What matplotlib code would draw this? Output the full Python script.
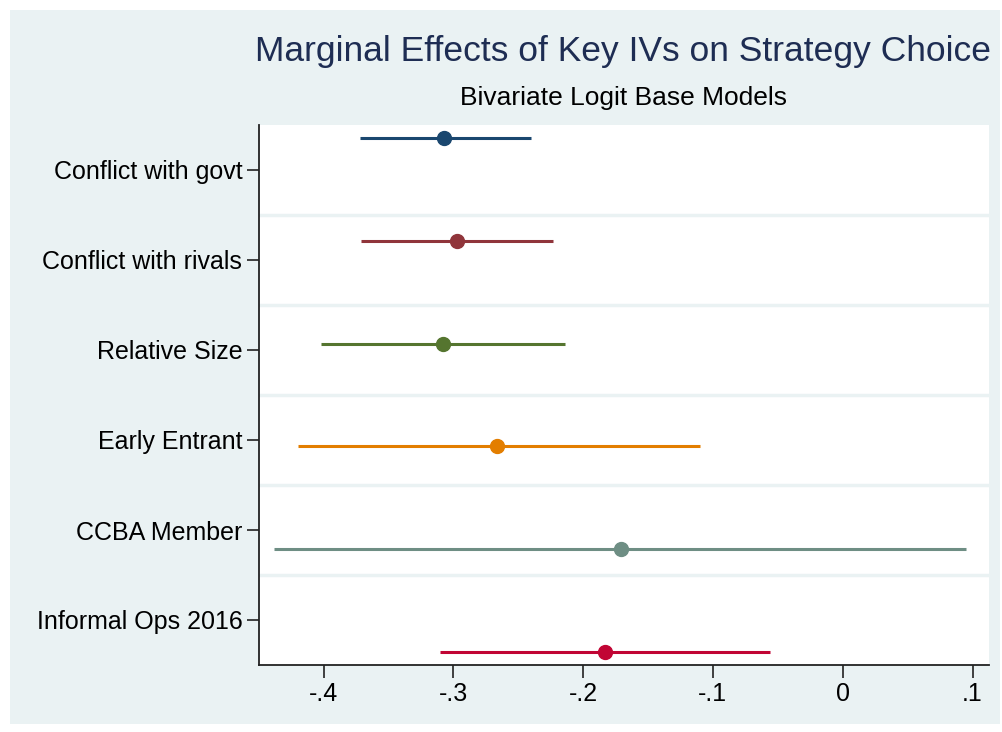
import matplotlib.pyplot as plt
from matplotlib.patches import Rectangle

# Marginal effects with 95% CIs, one model per IV
labels = ["Conflict with govt", "Conflict with rivals", "Relative Size",
          "Early Entrant", "CCBA Member", "Informal Ops 2016"]
est = [-0.307, -0.297, -0.308, -0.266, -0.171, -0.183]
lo = [-0.372, -0.371, -0.402, -0.420, -0.438, -0.310]
hi = [-0.240, -0.223, -0.214, -0.110, 0.095, -0.056]
colors = ["#1a476f", "#90353b", "#55752f", "#e37e00", "#6e8e84", "#c10534"]
xticks = [-0.4, -0.3, -0.2, -0.1, 0, 0.1]
xticklabels = ["-.4", "-.3", "-.2", "-.1", "0", ".1"]

bg = "#eaf2f3"
plt.rcParams["font.family"] = ["Liberation Sans", "DejaVu Sans"]

fig = plt.figure(figsize=(10.02, 7.32), dpi=100)
fig.patch.set_facecolor("white")
fig.patches.append(Rectangle((10 / 1002, 8 / 732), 990 / 1002, 714 / 732,
                             transform=fig.transFigure, facecolor=bg,
                             edgecolor="none", zorder=-10))

ax = fig.add_axes([259 / 1002, 1 - 665 / 732, 730 / 1002, 540 / 732])
ax.set_facecolor("white")

n = len(labels)
step = 0.144
for i in range(n):
    y = i + 1 + (i - (n - 1) / 2) * step
    ax.plot([lo[i], hi[i]], [y, y], color=colors[i], lw=2.2, solid_capstyle="butt", zorder=3)
    ax.plot(est[i], y, "o", color=colors[i], ms=10, zorder=4)

# band separators between categories
for k in range(1, n):
    ax.axhline(k + 0.5, color=bg, lw=2.5, zorder=1)

ax.set_xlim(-0.4497, 0.1127)
ax.set_ylim(n + 0.5, 0.5)
ax.set_yticks(range(1, n + 1))
ax.set_yticklabels(labels, fontsize=18)
ax.set_xticks(xticks)
ax.set_xticklabels(xticklabels, fontsize=18)
ax.tick_params(axis="both", length=9, width=1.2, color="#222222", pad=3)

for side in ["top", "right"]:
    ax.spines[side].set_visible(False)
for side in ["left", "bottom"]:
    ax.spines[side].set_linewidth(1.3)
    ax.spines[side].set_color("#222222")

fig.text(623 / 1002, 1 - 52 / 732, "Marginal Effects of Key IVs on Strategy Choice",
         ha="center", va="center", fontsize=25.5, color="#1e2d53")
fig.text(623 / 1002, 1 - 98 / 732, "Bivariate Logit Base Models",
         ha="center", va="center", fontsize=19, color="black")

fig.savefig("out.png", dpi=100)
